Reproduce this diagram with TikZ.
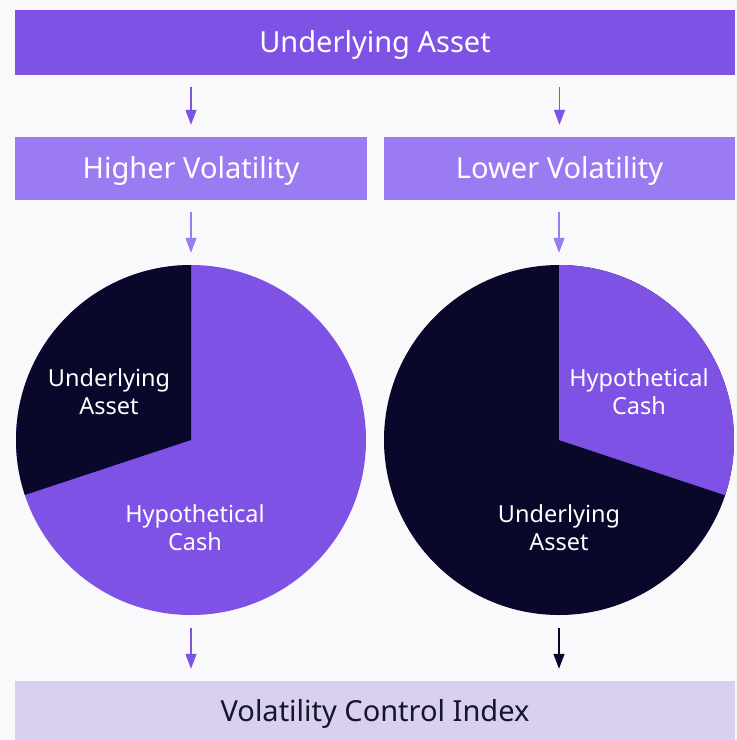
\documentclass[tikz,border=0pt]{standalone}
\usepackage{fontspec}
\setmainfont{Noto Sans}
\usetikzlibrary{arrows.meta}
\definecolor{bg}{HTML}{F9F9FC}
\definecolor{purp}{HTML}{7F52E6}
\definecolor{lpurp}{HTML}{9B7BF2}
\definecolor{navy}{HTML}{09082A}
\definecolor{lav}{HTML}{D9CFF0}
\definecolor{txt}{HTML}{16152A}
\begin{document}
\begin{tikzpicture}[x=1pt,y=-1pt,
  box/.style={inner sep=0pt, text=white, text height=20.5pt, text depth=0pt, font=\fontsize{29}{34}\selectfont},
  pietext/.style={inner sep=0pt, text=white, align=center, font=\fontsize{23.5}{28}\selectfont},
  flow/.style={line width=1.4pt, -{Triangle[length=15pt,width=11pt]}, shorten <=12pt, shorten >=12pt}]
\fill[bg] (0,0) rectangle (737,740);
\useasboundingbox (0,0) rectangle (737,740);
\node[box, fill=purp, minimum width=720pt, minimum height=65pt] (ua) at (375,42.5) {Underlying Asset};
\node[box, fill=lpurp, minimum width=352pt, minimum height=63pt] (hv) at (191,168.5) {Higher Volatility};
\node[box, fill=lpurp, minimum width=351pt, minimum height=63pt] (lv) at (559.5,168.5) {Lower Volatility};
\node[circle, minimum size=350pt, inner sep=0pt] (pl) at (191,440) {};
\node[circle, minimum size=350pt, inner sep=0pt] (pr) at (559,440) {};
\node[box, fill=lav, text=txt, minimum width=720pt, minimum height=60pt] (vci) at (375,711) {Volatility Control Index};
% left pie
\fill[purp] (pl.center) circle[radius=175pt];
\fill[navy] (pl.center) -- ++(0,-175) arc[start angle=90, end angle=198.3, radius=175pt] -- cycle;
% right pie
\fill[navy] (pr.center) circle[radius=175pt];
\fill[purp] (pr.center) -- ++(0,-175) arc[start angle=90, end angle=-18.4, radius=175pt] -- cycle;
\node[pietext] (plu) at (109,392) {Underlying\\Asset};
\node[pietext] (plh) at (195,528) {Hypothetical\\Cash};
\node[pietext] (prh) at (639,392) {Hypothetical\\Cash};
\node[pietext] (pru) at (559,528) {Underlying\\Asset};
% arrows
\draw[flow, purp] (ua.south -| hv) -- (hv.north);
\draw[flow, purp] (ua.south -| lv) -- (lv.north);
\draw[flow, lpurp] (hv.south) -- (pl.north);
\draw[flow, lpurp] (lv.south -| pr) -- (pr.north);
\draw[flow, purp, shorten <=13pt] (pl.south) -- (vci.north -| pl);
\draw[flow, navy, shorten <=13pt] (pr.south) -- (vci.north -| pr);
\end{tikzpicture}
\end{document}
